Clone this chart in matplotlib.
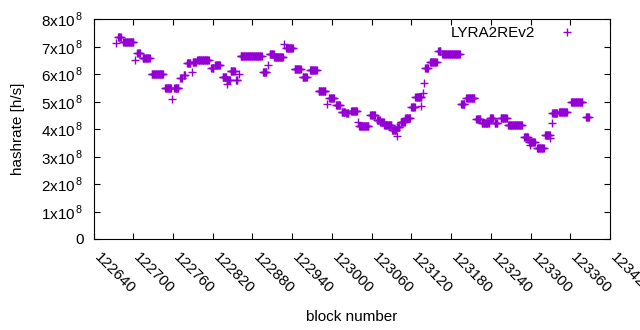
import numpy as np
import matplotlib.pyplot as plt

plt.rcParams['font.family'] = ['Liberation Sans', 'DejaVu Sans']
plt.rcParams['mathtext.fontset'] = 'custom'
plt.rcParams['mathtext.rm'] = 'Liberation Sans'

# 数据：每段相同算力的区块范围（起始块, 结束块, 算力 单位1e8 h/s）
run_start = [122677, 122685, 122706, 122714, 122728, 122748, 122762, 122771, 122776, 122781,
             122790, 122797, 122818, 122824, 122835, 122841, 122847, 122855, 122862, 122896,
             122906, 122913, 122931, 122944, 122956, 122967, 122980, 122996, 123006, 123015,
             123022, 123029, 123041, 123058, 123068, 123073, 123079, 123091, 123098, 123104,
             123111, 123120, 123126, 123141, 123148, 123161, 123167, 123195, 123203, 123218,
             123226, 123239, 123246, 123255, 123266, 123290, 123298, 123310, 123322, 123333,
             123343, 123361, 123384]
run_end = [122681, 122700, 122710, 122725, 122745, 122757, 122768, 122773, 122778, 122786,
           122795, 122814, 122821, 122831, 122840, 122846, 122853, 122857, 122894, 122901,
           122912, 122926, 122941, 122953, 122962, 122977, 122990, 123003, 123012, 123020,
           123025, 123038, 123055, 123065, 123072, 123078, 123090, 123097, 123102, 123110,
           123118, 123125, 123135, 123145, 123158, 123164, 123193, 123200, 123215, 123224,
           123237, 123243, 123250, 123264, 123287, 123296, 123306, 123320, 123329, 123340,
           123355, 123378, 123388]
run_value = [7.36, 7.16, 6.76, 6.58, 6.00, 5.49, 5.49, 5.87, 5.97, 6.40,
             6.45, 6.52, 6.22, 6.33, 5.90, 5.80, 6.13, 5.78, 6.65, 6.07,
             6.73, 6.63, 6.94, 6.18, 5.89, 6.14, 5.38, 5.12, 4.87, 4.64,
             4.57, 4.65, 4.12, 4.52, 4.35, 4.25, 4.14, 3.97, 4.08, 4.27,
             4.40, 4.80, 5.18, 6.22, 6.45, 6.86, 6.73, 4.91, 5.12, 4.36,
             4.22, 4.42, 4.22, 4.42, 4.15, 3.73, 3.54, 3.30, 3.79, 4.59,
             4.62, 4.98, 4.45]

# 单独的点
single_block = [122674, 122702, 122759, 122788, 122842, 122859, 122903, 122928, 122992, 123040,
                123098, 123134, 123137, 123139, 123299, 123330, 123332]
single_value = [7.13, 6.52, 5.10, 6.07, 5.63, 6.01, 6.33, 7.09, 4.91, 4.27,
                3.75, 4.84, 5.33, 5.67, 3.42, 3.67, 4.24]

x_ticks = list(range(122640, 123420 + 1, 60))
y_ticks = [0, 1e8, 2e8, 3e8, 4e8, 5e8, 6e8, 7e8, 8e8]
y_labels = ['0'] + [r'$\mathregular{%dx10}^{\mathregular{\,8}}$' % i for i in range(1, 9)]

# 展开为逐块数据
blocks = []; rates = []
for s, e, v in zip(run_start, run_end, run_value):
    for b in range(s, e + 1):
        blocks.append(b); rates.append(v * 1e8)
for b, v in zip(single_block, single_value):
    blocks.append(b); rates.append(v * 1e8)

fig = plt.figure(figsize=(6.4, 3.3), dpi=100)
ax = fig.add_axes([93.5 / 640, 91 / 330, (610 - 93.5) / 640, (239 - 19.3) / 330])

ax.plot(blocks, rates, linestyle='none', marker='+', color='#9400d3',
        markersize=6, markeredgewidth=1.0, label='LYRA2REv2')

ax.set_xlim(122640, 123420)
ax.set_ylim(0, 8e8)
ax.set_xticks(x_ticks)
ax.set_xticklabels([str(t) for t in x_ticks], rotation=-45, ha='left', va='baseline',
                   rotation_mode='anchor')
ax.set_yticks(y_ticks)
ax.set_yticklabels(y_labels)
ax.tick_params(direction='in', top=True, right=True, length=4.5, width=0.8,
               labelsize=11, colors='black')
ax.tick_params(axis='x', pad=13.5)
ax.tick_params(axis='y', pad=7)
for sp in ax.spines.values():
    sp.set_linewidth(0.8)

ax.set_xlabel('block number', fontsize=11, labelpad=10)
ax.set_ylabel('hashrate [h/s]', fontsize=11, labelpad=12)

ax.legend(loc='upper right', bbox_to_anchor=(582 / 640, (330 - 26) / 330),
          bbox_transform=fig.transFigure, markerfirst=False, frameon=False,
          fontsize=11, handlelength=2.0, handletextpad=1.1, borderpad=0,
          borderaxespad=0, numpoints=1)

fig.savefig('out.png', dpi=100)
